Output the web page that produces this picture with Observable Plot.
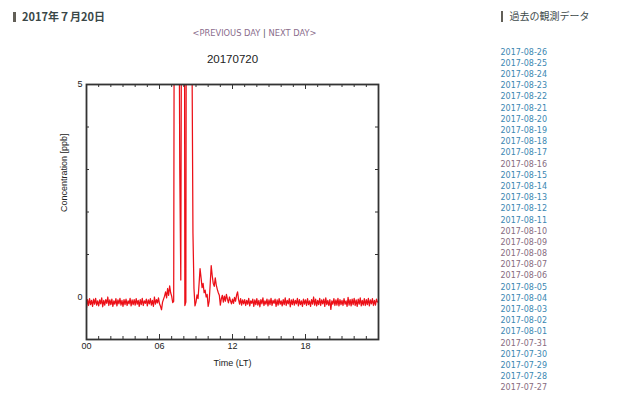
<!DOCTYPE html>
<html><head><meta charset="utf-8">
<script src="https://cdn.jsdelivr.net/npm/d3@7"></script>
<script src="https://cdn.jsdelivr.net/npm/@observablehq/plot@0.6"></script>
<style>
body{margin:0;background:#fff;width:627px;height:396px;overflow:hidden;position:relative;font-family:"DejaVu Sans",sans-serif}
#chart{position:absolute;left:0;top:0}
.abs{position:absolute;white-space:nowrap}
.bar{position:absolute;background:#625f57}
#dayhead{left:22px;top:9px;font:bold 11px/14px "Noto Sans CJK JP",sans-serif;color:#3a4747}
#nav{left:192.5px;top:27.8px;font:8.3px/10px "DejaVu Sans",sans-serif;color:#555}
#nav a{color:#8a6c8c;text-decoration:none}
#sidehead{left:509.5px;top:9px;font:10px/14px "Noto Sans CJK JP",sans-serif;color:#3d4a4a}
#dates{left:500.5px;top:46.7px;font:8px/11.18px "DejaVu Sans",sans-serif;margin:0;padding:0;list-style:none}
#dates li{color:#3b87b2}
#dates li.v{color:#876b80}
</style></head><body>
<div id="chart"></div>
<div class="bar" style="left:13.3px;top:11.5px;width:2.6px;height:10.5px"></div>
<div class="abs" id="dayhead">2017年７月20日</div>
<div class="abs" id="nav"><a>&lt;PREVIOUS DAY</a> | <a>NEXT DAY&gt;</a></div>
<div class="bar" style="left:500.7px;top:11px;width:2.8px;height:11px"></div>
<div class="abs" id="sidehead">過去の観測データ</div>
<ul class="abs" id="dates"></ul>
<script>
// Concentration [ppb], 5-minute samples
const conc00to05 = [
 -0.26,-0.06,-0.20,-0.04,-0.18,-0.08,-0.22,-0.05,-0.17,-0.03,-0.19,-0.09,
 -0.21,-0.07,-0.16,-0.02,-0.23,-0.08,-0.19,-0.06,-0.15,0.00,-0.20,-0.07,
 -0.18,-0.05,-0.22,-0.09,-0.17,-0.04,-0.21,-0.07,-0.16,-0.03,-0.19,-0.08,
 -0.22,-0.06,-0.18,-0.05,-0.20,-0.09,-0.16,-0.03,-0.21,-0.07,-0.18,-0.06,
 -0.19,-0.04,-0.17,-0.08,-0.22,-0.06,-0.18,-0.03,-0.20,-0.09,-0.15,-0.05,
 -0.21,-0.07,-0.16,-0.04,-0.19,-0.08,-0.22,0.00,-0.17,-0.06,-0.14,-0.02];
const conc06to11 = [
 -0.16,-0.22,-0.30,-0.12,-0.05,0.02,0.12,-0.02,0.20,0.04,0.26,0.10,
 0.02,-0.13,-0.10,14,28,35,20,9,3,0.4,10,26,
 20,-0.20,-0.12,18,30,25,32,15,6,1.5,0.2,-0.21,
 -0.12,0.05,-0.04,0.30,0.67,0.45,0.22,0.32,0.10,0.16,0.00,0.06,
 -0.22,-0.10,0.30,0.74,0.50,0.32,0.25,0.45,0.28,0.18,0.10,0.04,
 -0.19,-0.04,0.04,-0.12,0.02,-0.10,0.06,-0.05,-0.14,0.00,-0.09,-0.16];
const conc12to17 = [
 -0.05,-0.15,-0.01,-0.10,0.04,0.12,-0.06,-0.17,-0.04,-0.19,-0.07,-0.16,
 -0.06,-0.20,-0.08,-0.17,-0.03,-0.21,-0.09,-0.15,-0.05,-0.22,-0.07,-0.18,
 -0.04,-0.19,-0.08,-0.23,-0.06,-0.16,-0.02,-0.20,-0.09,-0.17,-0.05,-0.21,
 -0.07,-0.18,-0.03,-0.20,-0.08,-0.15,-0.05,-0.22,-0.07,-0.19,-0.04,-0.17,
 -0.09,-0.21,-0.06,-0.18,-0.02,-0.20,-0.08,-0.16,-0.04,-0.23,-0.07,-0.18,
 -0.05,-0.19,-0.08,-0.16,-0.03,-0.21,-0.06,-0.18,-0.09,-0.22,-0.05,-0.17];
const conc18to23 = [
 -0.07,-0.20,-0.04,-0.18,-0.09,-0.22,-0.06,-0.17,0.00,-0.19,-0.05,-0.21,
 -0.08,-0.18,-0.03,-0.20,-0.07,-0.16,-0.05,-0.22,-0.02,-0.18,-0.08,-0.20,
 -0.06,-0.29,-0.09,-0.17,-0.04,-0.20,-0.07,-0.19,-0.03,-0.21,-0.06,-0.18,
 -0.08,-0.20,-0.04,-0.17,-0.09,-0.22,-0.01,-0.19,-0.06,-0.21,-0.05,-0.18,
 -0.03,-0.20,-0.07,-0.22,-0.05,-0.17,-0.02,-0.21,-0.08,-0.19,-0.04,-0.20,
 -0.06,-0.18,-0.03,-0.21,-0.07,-0.16,-0.04,-0.20,-0.08,-0.19,-0.05,-0.12];

const xTickValues = [0, 6, 12, 18];
const xTickLabels = ["00", "06", "12", "18"];
const yTickValues = [0, 5];
const yMinorTicks = [1, 2, 3, 4];
const xMinorTicks = [1,2,3,4,5,7,8,9,10,11,13,14,15,16,17,19,20,21,22,23];
const chartTitle = "20170720";
const xLabel = "Time (LT)";
const yLabel = "Concentration [ppb]";

const pastDates = ["2017-08-26","2017-08-25","2017-08-24","2017-08-23","2017-08-22","2017-08-21","2017-08-20","2017-08-19","2017-08-18","2017-08-17","2017-08-16","2017-08-15","2017-08-14","2017-08-13","2017-08-12","2017-08-11","2017-08-10","2017-08-09","2017-08-08","2017-08-07","2017-08-06","2017-08-05","2017-08-04","2017-08-03","2017-08-02","2017-08-01","2017-07-31","2017-07-30","2017-07-29","2017-07-28","2017-07-27"];
const visitedDates = ["2017-08-16","2017-08-10","2017-08-09","2017-08-08","2017-08-07","2017-08-06","2017-07-31","2017-07-27"];

const values = [...conc00to05, ...conc06to11, ...conc12to17, ...conc18to23];
const series = values.map((v, i) => ({t: i * 5 / 60, v}));

const W = 400, H = 380, mt = 84, mr = 22, mb = 41, ml = 86;
const fw = W - ml - mr, fh = H - mt - mb;
const ink = "#333";

const chart = Plot.plot({
  width: W, height: H,
  marginTop: mt, marginRight: mr, marginBottom: mb, marginLeft: ml,
  style: {background: "none", fontFamily: "'Liberation Sans', Arial, sans-serif", fontSize: "9px", color: "#222"},
  x: {domain: [0, 24], axis: null},
  y: {domain: [-1, 5], axis: null},
  marks: [
    Plot.line(series, {x: "t", y: "v", stroke: "#ec1018", strokeWidth: 1.25, clip: true}),
    Plot.tickX(xMinorTicks, {x: d => d, stroke: ink, insetTop: fh - 3}),
    Plot.tickX(xMinorTicks, {x: d => d, stroke: ink, insetBottom: fh - 3}),
    Plot.tickX(xTickValues, {x: d => d, stroke: ink, insetTop: fh - 5}),
    Plot.tickX(xTickValues, {x: d => d, stroke: ink, insetBottom: fh - 5}),
    Plot.tickY(yMinorTicks, {y: d => d, stroke: ink, insetRight: fw - 3}),
    Plot.tickY(yMinorTicks, {y: d => d, stroke: ink, insetLeft: fw - 3}),
    Plot.axisX(xTickValues, {tickSize: 0, tickPadding: 3, tickFormat: d => xTickLabels[xTickValues.indexOf(d)], label: null}),
    Plot.axisY(yTickValues, {tickSize: 0, tickPadding: 4, label: null}),
    Plot.text([yLabel], {text: d => d, frameAnchor: "left", dx: -22, rotate: -90}),
    Plot.text([xLabel], {text: d => d, frameAnchor: "bottom", lineAnchor: "middle", dy: 24}),
    Plot.text([chartTitle], {text: d => d, frameAnchor: "top", lineAnchor: "middle", dy: -25, fontSize: 11.5, fill: "#222"}),
    Plot.frame({stroke: ink, strokeWidth: 1.8})
  ]
});
document.getElementById("chart").appendChild(chart);

const ul = document.getElementById("dates");
for (const d of pastDates) {
  const li = document.createElement("li");
  li.textContent = d;
  if (visitedDates.includes(d)) li.className = "v";
  ul.appendChild(li);
}
</script>
</body></html>
